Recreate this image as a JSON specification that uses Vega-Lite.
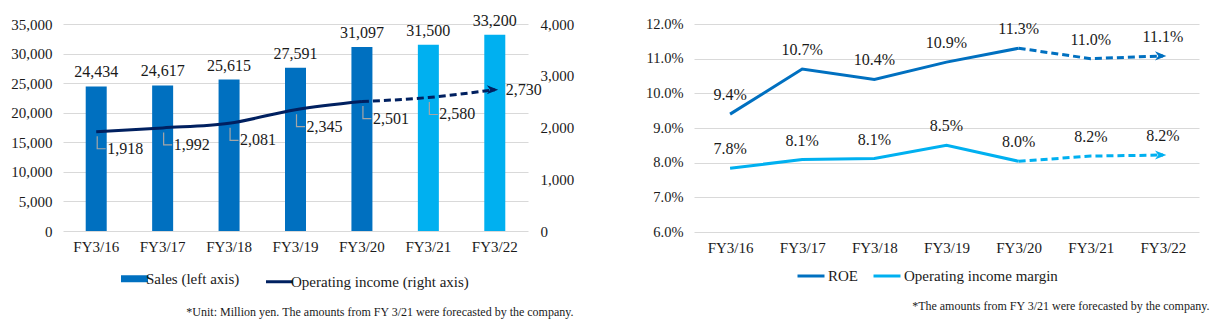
{
  "$schema": "https://vega.github.io/schema/vega-lite/v6.json",
  "padding": {"left": 10, "top": 12, "right": 5, "bottom": 5},
  "background": "white",
  "config": {
    "view": {"stroke": null},
    "font": "Liberation Serif",
    "axis": {"labelFont": "Liberation Serif", "titleFont": "Liberation Serif", "labelFontSize": 15, "labelColor": "#1a1a1a", "domain": false, "ticks": false, "gridColor": "#d9d9d9", "titleFontWeight": "normal", "titleFontSize": 12, "titleColor": "#1a1a1a"},
    "legend": {"labelFont": "Liberation Serif", "labelFontSize": 15, "labelColor": "#1a1a1a", "labelLimit": 400},
    "text": {"font": "Liberation Serif", "fontSize": 16, "color": "#1a1a1a"}
  },
  "datasets": {
    "sales": [
      {"year": "FY3/16", "sales": 24434, "status": "Actual"},
      {"year": "FY3/17", "sales": 24617, "status": "Actual"},
      {"year": "FY3/18", "sales": 25615, "status": "Actual"},
      {"year": "FY3/19", "sales": 27591, "status": "Actual"},
      {"year": "FY3/20", "sales": 31097, "status": "Actual"},
      {"year": "FY3/21", "sales": 31500, "status": "Forecast"},
      {"year": "FY3/22", "sales": 33200, "status": "Forecast"}
    ],
    "op": [
      {"year": "FY3/16", "op": 1918, "series": "Operating income (right axis)"},
      {"year": "FY3/17", "op": 1992, "series": "Operating income (right axis)"},
      {"year": "FY3/18", "op": 2081, "series": "Operating income (right axis)"},
      {"year": "FY3/19", "op": 2345, "series": "Operating income (right axis)"},
      {"year": "FY3/20", "op": 2501, "series": "Operating income (right axis)"},
      {"year": "FY3/21", "op": 2580, "series": "Operating income (right axis)"},
      {"year": "FY3/22", "op": 2730, "series": "Operating income (right axis)"}
    ],
    "ratios": [
      {"year": "FY3/16", "series": "ROE", "value": 0.094},
      {"year": "FY3/17", "series": "ROE", "value": 0.107},
      {"year": "FY3/18", "series": "ROE", "value": 0.104},
      {"year": "FY3/19", "series": "ROE", "value": 0.109},
      {"year": "FY3/20", "series": "ROE", "value": 0.113},
      {"year": "FY3/21", "series": "ROE", "value": 0.110},
      {"year": "FY3/22", "series": "ROE", "value": 0.1108},
      {"year": "FY3/16", "series": "Operating income margin", "value": 0.0784},
      {"year": "FY3/17", "series": "Operating income margin", "value": 0.0809},
      {"year": "FY3/18", "series": "Operating income margin", "value": 0.0812},
      {"year": "FY3/19", "series": "Operating income margin", "value": 0.085},
      {"year": "FY3/20", "series": "Operating income margin", "value": 0.0804},
      {"year": "FY3/21", "series": "Operating income margin", "value": 0.0819},
      {"year": "FY3/22", "series": "Operating income margin", "value": 0.0822}
    ]
  },
  "spacing": 71,
  "resolve": {"scale": {"color": "independent"}, "legend": {"color": "independent"}},
  "hconcat": [
    {
      "width": 465,
      "height": 207,
      "encoding": {
        "x": {"field": "year", "type": "nominal", "sort": null, "axis": {"title": "*Unit: Million yen. The amounts from FY 3/21 were forecasted by the company.", "labelAngle": 0, "labelPadding": 8, "titleX": 510, "titleY": 80, "titleAlign": "right", "titleAnchor": "end", "titleBaseline": "middle"}}
      },
      "layer": [
        {
          "data": {"name": "sales"},
          "encoding": {
            "y": {"field": "sales", "type": "quantitative", "title": null, "scale": {"domain": [0, 35000]}, "axis": {"values": [0, 5000, 10000, 15000, 20000, 25000, 30000, 35000], "format": ",.0f", "labelPadding": 11}}
          },
          "layer": [
            {"mark": {"type": "bar", "width": 21}, "encoding": {"color": {"field": "status", "type": "nominal", "scale": {"domain": ["Actual", "Forecast"], "range": ["#0070C0", "#00B0F0"]}, "legend": null}}},
            {"mark": {"type": "text", "dy": -6, "baseline": "bottom"}, "encoding": {"text": {"field": "sales", "type": "quantitative", "format": ",.0f"}}}
          ]
        },
        {
          "data": {"name": "op"},
          "encoding": {
            "y": {"field": "op", "type": "quantitative", "title": null, "scale": {"domain": [0, 4000]}, "axis": {"orient": "right", "values": [0, 1000, 2000, 3000, 4000], "format": ",.0f", "grid": false, "labelPadding": 12}}
          },
          "layer": [
            {
              "transform": [{"filter": {"field": "year", "oneOf": ["FY3/16", "FY3/17", "FY3/18", "FY3/19", "FY3/20", "FY3/21"]}}],
              "mark": {"type": "point", "shape": "M 0.2 0.9 L 0.2 3.4 L 1.9 3.4", "filled": false, "size": 100, "color": "#a6a6a6", "strokeWidth": 1.2, "opacity": 1}
            },
            {
              "transform": [{"filter": {"field": "year", "oneOf": ["FY3/16", "FY3/17", "FY3/18", "FY3/19", "FY3/20"]}}],
              "mark": {"type": "line", "strokeWidth": 3, "interpolate": "monotone"},
              "encoding": {"color": {"field": "series", "type": "nominal", "scale": {"domain": ["Sales (left axis)", "Operating income (right axis)"], "range": ["#0070C0", "#002060"]}, "legend": {"orient": "none", "legendX": 64, "legendY": 247, "direction": "horizontal", "title": null, "symbolType": "stroke", "symbolSize": 729, "symbolStrokeWidth": 3, "columnPadding": 20, "labelOffset": 4, "encode": {"symbols": {"update": {"strokeWidth": {"signal": "datum.value === 'Sales (left axis)' ? 7 : 3"}}}}}}}
            },
            {
              "transform": [{"filter": {"field": "year", "oneOf": ["FY3/20", "FY3/21", "FY3/22"]}}],
              "mark": {"type": "line", "strokeWidth": 3, "strokeDash": [7, 4], "interpolate": "monotone"},
              "encoding": {"color": {"field": "series", "type": "nominal"}}
            },
            {
              "transform": [{"filter": {"field": "year", "equal": "FY3/22"}}],
              "mark": {"type": "point", "shape": "M -1.4 -0.8 L 0.6 0 L -1.4 0.8 L -0.8 0 Z", "filled": true, "size": 130, "opacity": 1},
              "encoding": {"color": {"field": "series", "type": "nominal"}}
            },
            {
              "transform": [{"filter": {"field": "year", "oneOf": ["FY3/16", "FY3/17", "FY3/18", "FY3/19", "FY3/20", "FY3/21"]}}],
              "mark": {"type": "text", "align": "left", "dx": 11, "dy": 17},
              "encoding": {"text": {"field": "op", "type": "quantitative", "format": ",.0f"}}
            },
            {
              "transform": [{"filter": {"field": "year", "equal": "FY3/22"}}],
              "mark": {"type": "text", "align": "left", "dx": 11, "dy": 0},
              "encoding": {"text": {"field": "op", "type": "quantitative", "format": ",.0f"}}
            }
          ]
        }
      ],
      "resolve": {"scale": {"y": "independent", "color": "independent"}, "axis": {"y": "independent"}}
    },
    {
      "width": 505,
      "height": 208,
      "data": {"name": "ratios"},
      "encoding": {
        "x": {"field": "year", "type": "nominal", "sort": null, "axis": {"title": "*The amounts from FY 3/21 were forecasted by the company.", "labelAngle": 0, "labelPadding": 8, "titleX": 515, "titleY": 73, "titleAlign": "right", "titleAnchor": "end", "titleBaseline": "middle"}},
        "y": {"field": "value", "type": "quantitative", "title": null, "scale": {"domain": [0.06, 0.12]}, "axis": {"values": [0.06, 0.07, 0.08, 0.09, 0.10, 0.11, 0.12], "format": ".1%", "labelPadding": 11, "labelFontSize": 14.5}},
        "color": {"field": "series", "type": "nominal", "scale": {"domain": ["ROE", "Operating income margin"], "range": ["#0070C0", "#00B0F0"]}, "legend": {"orient": "none", "legendX": 102, "legendY": 237, "direction": "horizontal", "title": null, "symbolType": "stroke", "symbolSize": 729, "symbolStrokeWidth": 3, "columnPadding": 9, "labelOffset": 2}}
      },
      "layer": [
        {
          "transform": [{"filter": {"field": "year", "oneOf": ["FY3/16", "FY3/17", "FY3/18", "FY3/19", "FY3/20"]}}],
          "mark": {"type": "line", "strokeWidth": 3}
        },
        {
          "transform": [{"filter": {"field": "year", "oneOf": ["FY3/20", "FY3/21", "FY3/22"]}}],
          "mark": {"type": "line", "strokeWidth": 3, "strokeDash": [7, 4]}
        },
        {
          "transform": [{"filter": {"field": "year", "equal": "FY3/22"}}],
          "mark": {"type": "point", "shape": "M -1.4 -0.8 L 0.6 0 L -1.4 0.8 L -0.8 0 Z", "filled": true, "size": 130, "opacity": 1}
        },
        {
          "mark": {"type": "text", "dy": -19, "baseline": "middle"},
          "encoding": {"text": {"field": "value", "type": "quantitative", "format": ".1%"}, "color": {"value": "#1a1a1a"}}
        }
      ]
    }
  ]
}
